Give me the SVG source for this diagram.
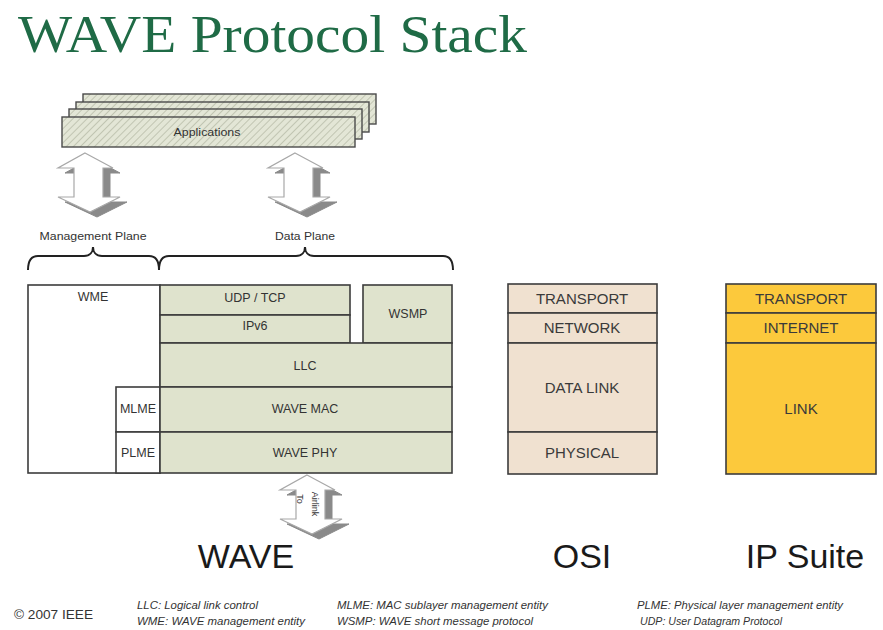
<svg xmlns="http://www.w3.org/2000/svg" width="883" height="630" viewBox="0 0 883 630">
<style>
.lbl{font-family:"Liberation Sans",Arial,sans-serif;fill:#333;}
.s{font-size:12.5px;text-anchor:middle;}
.m{font-size:15px;text-anchor:middle;fill:#3a3a3a;}
.big{font-family:"Liberation Sans",Arial,sans-serif;font-size:34px;fill:#1a1a1a;text-anchor:middle;}
.foot{font-family:"Liberation Sans",Arial,sans-serif;font-size:11px;font-style:italic;fill:#333;}
.wave{fill:#dfe3cd;stroke:#3c3c3c;stroke-width:1.6;}
.white{fill:#fff;stroke:#3c3c3c;stroke-width:1.6;}
.osi{fill:#f0e1d0;stroke:#3c3c3c;stroke-width:1.6;}
.ip{fill:#fcc93c;stroke:#3c3c3c;stroke-width:1.6;}
.app{fill:url(#hatch);stroke:#4a4a4a;stroke-width:1.4;}
.brace{fill:none;stroke:#222;stroke-width:2;}
</style>
<defs>
<pattern id="hatch" patternUnits="userSpaceOnUse" width="5" height="5" patternTransform="rotate(45)">
<rect width="5" height="5" fill="#e3e6d6"/>
<line x1="0" y1="0" x2="0" y2="5" stroke="#b9bda9" stroke-width="1.6"/>
</pattern>
<g id="arrow3d">
<polygon points="7,5 35,20 25,20 25,49 42,49 12,64 -20,49 -4,49 -4,20 -20,20" fill="#8a8a8a" stroke="#8a8a8a" stroke-width="1"/>
<polygon points="0,0 28,15 18,15 18,44 35,44 5,59 -27,44 -11,44 -11,15 -27,15" fill="#fff" stroke="#a8a8a8" stroke-width="1.2"/>
</g>
</defs>
<rect width="883" height="630" fill="#fff"/>

<text x="18" y="52" font-family="'Liberation Serif','Times New Roman',serif" font-size="53" fill="#1f6b46" textLength="509" lengthAdjust="spacingAndGlyphs">WAVE Protocol Stack</text>

<g id="applications">
<rect class="app" x="83" y="94" width="293" height="30"/>
<rect class="app" x="76" y="102" width="293" height="30"/>
<rect class="app" x="69" y="109" width="293" height="30"/>
<rect class="app" x="62" y="117" width="293" height="30"/>
<text class="lbl" x="207" y="136" font-size="11.5" text-anchor="middle" fill="#444" textLength="67" lengthAdjust="spacingAndGlyphs">Applications</text>
</g>

<g id="connectors">
<use href="#arrow3d" x="85" y="153"/>
<use href="#arrow3d" x="295" y="153"/>
<use href="#arrow3d" x="307" y="475"/>
<path class="brace" d="M28,270 C28,262 30,256 38,256 L84,256 C90,256 93,252 93,247 C93,252 96,256 102,256 L149,256 C156,256 159,262 159,270"/>
<path class="brace" d="M159,270 C159,262 162,256 169,256 L296,256 C302,256 305,252 305,247 C305,252 308,256 314,256 L443,256 C450,256 453,262 453,270"/>
</g>

<g id="to-airlink">
<text class="lbl" font-size="9" fill="#555" text-anchor="middle" transform="translate(297,499) rotate(90)">To</text>
<text class="lbl" font-size="9" fill="#555" text-anchor="middle" transform="translate(312,504) rotate(90)">Airlink</text>
</g>

<g id="plane-labels">
<text class="lbl" x="93" y="240" font-size="11.5" text-anchor="middle" fill="#444" textLength="107" lengthAdjust="spacingAndGlyphs">Management Plane</text>
<text class="lbl" x="305" y="240" font-size="11.5" text-anchor="middle" fill="#444" textLength="60" lengthAdjust="spacingAndGlyphs">Data Plane</text>
</g>

<g id="wme"><rect class="white" x="28" y="285" width="132" height="188"/><text class="lbl s" x="93" y="301">WME</text></g>
<g id="udp-tcp"><rect class="wave" x="160" y="285" width="190" height="30"/><text class="lbl s" x="255" y="301.5">UDP / TCP</text></g>
<g id="ipv6"><rect class="wave" x="160" y="315" width="190" height="28"/><text class="lbl s" x="255" y="330">IPv6</text></g>
<g id="wsmp"><rect class="wave" x="363" y="285" width="89" height="58"/><text class="lbl s" x="408" y="318">WSMP</text></g>
<g id="llc"><rect class="wave" x="160" y="343" width="292" height="44"/><text class="lbl s" x="305" y="369.5">LLC</text></g>
<g id="mlme"><rect class="white" x="116" y="387" width="44" height="45"/><text class="lbl s" x="138" y="413">MLME</text></g>
<g id="wave-mac"><rect class="wave" x="160" y="387" width="292" height="45"/><text class="lbl s" x="305" y="413">WAVE MAC</text></g>
<g id="plme"><rect class="white" x="116" y="432" width="44" height="41"/><text class="lbl s" x="138" y="457">PLME</text></g>
<g id="wave-phy"><rect class="wave" x="160" y="432" width="292" height="41"/><text class="lbl s" x="305" y="457">WAVE PHY</text></g>

<g id="osi-transport"><rect class="osi" x="508" y="284" width="149" height="29"/><text class="lbl m" x="582" y="303.5">TRANSPORT</text></g>
<g id="osi-network"><rect class="osi" x="508" y="313" width="149" height="30"/><text class="lbl m" x="582" y="332.5">NETWORK</text></g>
<g id="osi-datalink"><rect class="osi" x="508" y="343" width="149" height="89"/><text class="lbl m" x="582" y="392.5">DATA LINK</text></g>
<g id="osi-physical"><rect class="osi" x="508" y="432" width="149" height="42"/><text class="lbl m" x="582" y="458">PHYSICAL</text></g>

<g id="ip-transport"><rect class="ip" x="726" y="284" width="150" height="29"/><text class="lbl m" x="801" y="303.5">TRANSPORT</text></g>
<g id="ip-internet"><rect class="ip" x="726" y="313" width="150" height="30"/><text class="lbl m" x="801" y="332.5">INTERNET</text></g>
<g id="ip-link"><rect class="ip" x="726" y="343" width="150" height="131"/><text class="lbl m" x="801" y="413.5">LINK</text></g>

<g id="stack-titles">
<text class="big" x="246" y="568">WAVE</text>
<text class="big" x="582" y="568">OSI</text>
<text class="big" x="805" y="568">IP Suite</text>
</g>

<g id="footer">
<text class="lbl" x="14" y="619" font-size="12" textLength="79" lengthAdjust="spacingAndGlyphs">© 2007 IEEE</text>
<text class="foot" x="137" y="609" textLength="121" lengthAdjust="spacingAndGlyphs">LLC: Logical link control</text>
<text class="foot" x="137" y="625" textLength="168" lengthAdjust="spacingAndGlyphs">WME: WAVE management entity</text>
<text class="foot" x="337" y="609" textLength="211" lengthAdjust="spacingAndGlyphs">MLME: MAC sublayer management entity</text>
<text class="foot" x="337" y="625" textLength="196" lengthAdjust="spacingAndGlyphs">WSMP: WAVE short message protocol</text>
<text class="foot" x="637" y="609" textLength="206" lengthAdjust="spacingAndGlyphs">PLME: Physical layer management entity</text>
<text class="foot" x="640" y="625" textLength="142" lengthAdjust="spacingAndGlyphs">UDP: User Datagram Protocol</text>
</g>
</svg>
